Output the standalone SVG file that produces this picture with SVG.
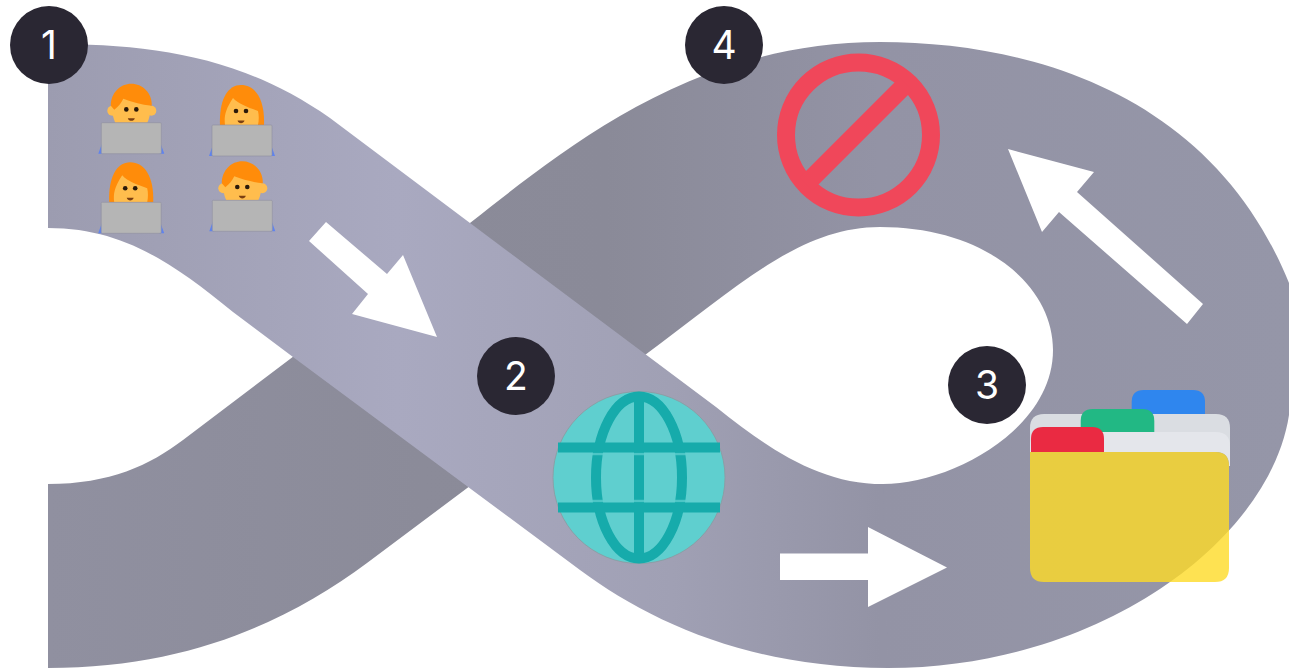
<svg xmlns="http://www.w3.org/2000/svg" width="1289" height="669" viewBox="0 0 1289 669">
<style>
.badge{fill:#2a2733}
.num{fill:#fff;font-family:Inter,"Liberation Sans",sans-serif;font-size:39px;font-weight:400;text-anchor:middle}
.arrow{fill:#fff}
.soft{filter:url(#soft)}
.hair{fill:#ff8c0a}.face{fill:#ffbd4d}.eye{fill:#2a1a0a}.mouth{fill:#7a3f12}
.laptop{fill:#b5b5b5;stroke:#8f8fa0;stroke-width:.6}.leg{fill:#5f83ee}
</style>
<defs>
<filter id="soft" x="-2%" y="-2%" width="104%" height="104%"><feGaussianBlur stdDeviation=".6"/></filter>
<linearGradient id="dark" gradientUnits="userSpaceOnUse" x1="48" y1="0" x2="1289" y2="0">
<stop offset="0" stop-color="#9090a0"/><stop offset=".3" stop-color="#8b8b99"/><stop offset=".45" stop-color="#8a8a98"/><stop offset=".67" stop-color="#9393a5"/><stop offset="1" stop-color="#9596a8"/>
</linearGradient>
<linearGradient id="light" gradientUnits="userSpaceOnUse" x1="48" y1="0" x2="880" y2="0">
<stop offset="0" stop-color="#9c9cb0"/><stop offset=".42" stop-color="#a9a9c0"/><stop offset=".75" stop-color="#a0a0b4"/><stop offset="1" stop-color="#9393a5"/>
</linearGradient>
<g id="base">
<path class="leg" d="M-33,31L-28,17V31ZM33,31L28,17V31Z"/>
<rect class="laptop" x="-30" y="0" width="60" height="31" rx="1"/>
</g>
<g id="short">
<circle class="face" cx="-19" cy="-12" r="5"/><circle class="face" cx="20" cy="-12" r="5"/>
<path class="face" d="M-16,0C-20,-8 -20,-20 -17,-28H17C20,-20 20,-8 16,0Z"/>
<path class="hair" d="M-20.500,-17C-20.500,-30 -11,-39 0,-39C11,-39 21,-30 20.500,-17C10,-18 0,-21 -8,-24C-10,-20 -13,-16 -17,-13Z"/>
<circle class="eye" cx="-5" cy="-13.300" r="2.300"/><circle class="eye" cx="5" cy="-13.300" r="2.300"/>
<path class="mouth" d="M-3.500,-4.500H3.500C2.500,-1 -2.500,-1 -3.500,-4.500Z"/>
<use href="#base"/>
</g>
<g id="long">
<path class="hair" d="M-22,0C-23,-26 -14,-40 -1,-40C13,-40 23,-26 22,0Z"/>
<path class="face" d="M-17,0C-18,-8 -17,-15 -9,-27C-4,-21 8,-17 16,-14C17,-10 17,-5 16,0Z"/>
<circle class="eye" cx="-6" cy="-14" r="2.300"/><circle class="eye" cx="4" cy="-14" r="2.300"/>
<path class="mouth" d="M-4.500,-4.500H2.500C1.500,-1 -3.500,-1 -4.500,-4.500Z"/>
<use href="#base"/>
</g>
</defs>
<g id="connectors">
<path id="ribbon-dark" class="soft" fill="url(#dark)" d="M48,484C110,484 150,465 183,440L470,223C560,153 690,42 880,42C1040,42 1215,100 1289,283C1305,325 1305,370 1289,415C1270,540 1100,668 888,668L860,655V495L883,484C950,484 1053,430 1053,350C1053,285 985,227 880,227C800,227 740,285 645,355L367,563C290,620 190,668 48,668Z"/>
<path id="ribbon-light" class="soft" fill="url(#light)" d="M48,44C150,44 240,55 330,118L470,223L716,407C770,450 820,484 883,484L888,668C750,668 650,622 580,570L293,357L233,312C175,265 125,228 48,228Z"/>
<polygon class="arrow" points="309,241 326,222 387,274 403,255 437,337 352,314 368,294"/>
<polygon class="arrow" points="780,553.500 868,553.500 868,527 947,567.500 868,607 868,580 780,580"/>
<polygon class="arrow" points="1203,304 1187,324 1059,212 1042,232 1008,149 1094,172 1077,192"/>
</g>
<g id="node-1">
<circle class="badge" cx="49" cy="45" r="39"/><text class="num" x="49" y="59">1</text>
<use href="#short" x="131.300" y="122.700"/><use href="#long" x="242" y="125"/>
<use href="#long" x="131.200" y="202.300"/><use href="#short" x="242.300" y="200.300"/>
</g>
<g id="node-2">
<circle class="badge" cx="516" cy="376" r="39"/><text class="num" x="516" y="390">2</text>
<circle cx="639" cy="477.500" r="86" fill="#5fcfcf" stroke="#8a9aa0" stroke-width=".8"/>
<g fill="none" stroke="#16abab" stroke-width="10">
<ellipse cx="639" cy="477.500" rx="43" ry="81"/>
<path d="M639,396V559"/>
</g>
<path d="M590,454H688M590,501H688" stroke="#5fcfcf" stroke-width="2.500" opacity=".75" fill="none"/>
<path d="M558,447.500H720M558,507.500H720" stroke="#16abab" stroke-width="10" fill="none"/>
</g>
<g id="node-3">
<circle class="badge" cx="987" cy="385" r="39"/><text class="num" x="987" y="399">3</text>
<path d="M1131.700,414V402Q1131.700,390 1143.700,390H1193Q1205,390 1205,402V414Z" fill="#2f86ee"/>
<path d="M1030,452V428Q1030,414 1044,414H1216Q1230,414 1230,428V452Z" fill="#dadde2"/>
<path d="M1080.700,432V421Q1080.700,409 1092.700,409H1142.300Q1154.300,409 1154.300,421V432Z" fill="#22b884"/>
<path d="M1030,452V446Q1030,432 1044,432H1216Q1230,432 1230,446V466H1229Q1229,452 1216,452Z" fill="#e4e6eb"/>
<path d="M1031,452V439Q1031,427 1043,427H1092Q1104,427 1104,439V452Z" fill="#ea2a42"/>
<path d="M1030,452H1216Q1229,452 1229,466V568Q1229,582 1215,582H1044Q1030,582 1030,568Z" fill="#fedb27" fill-opacity=".8"/>
</g>
<g id="node-4">
<circle class="badge" cx="724" cy="45" r="39"/><text class="num" x="724" y="59">4</text>
<circle cx="858.500" cy="135" r="72.500" fill="none" stroke="#f0475a" stroke-width="18"/>
<path d="M806,184L906,84" stroke="#f0475a" stroke-width="18.400" fill="none"/>
</g>
</svg>
